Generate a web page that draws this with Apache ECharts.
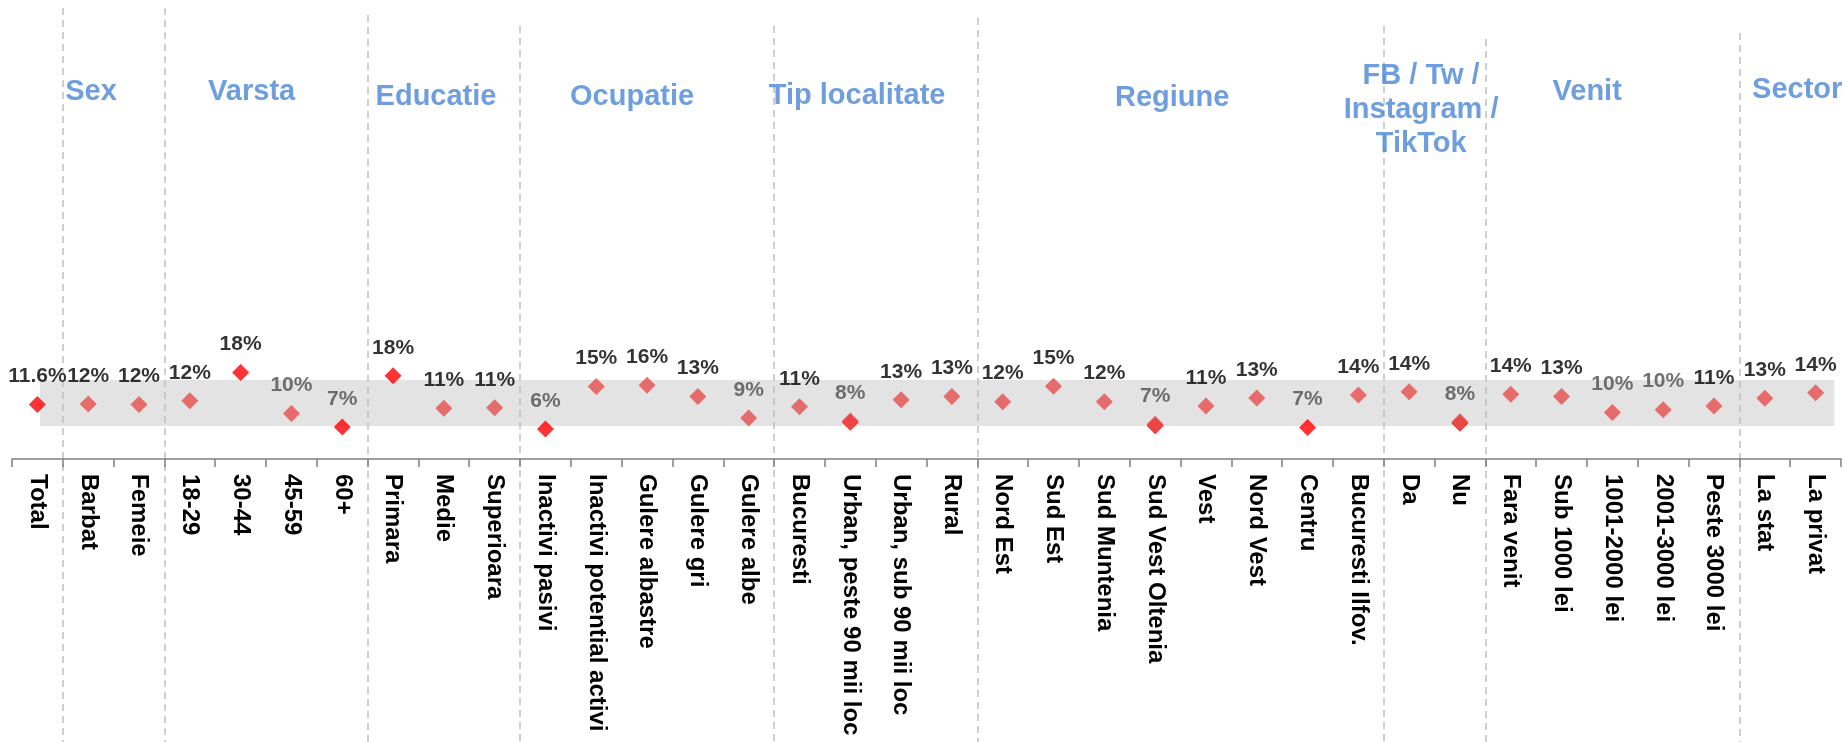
<!DOCTYPE html>
<html>
<head>
<meta charset="utf-8">
<script src="https://cdn.jsdelivr.net/npm/echarts@6/dist/echarts.min.js"></script>
<style>
  html, body { margin:0; padding:0; background:#fff; }
  #chart { width:1845px; height:742px; }
</style>
</head>
<body>
<div id="chart"></div>
<script>
// categorii, in ordinea din grafic
const categories = [
  'Total',
  'Barbat', 'Femeie',
  '18-29', '30-44', '45-59', '60+',
  'Primara', 'Medie', 'Superioara',
  'Inactivi pasivi', 'Inactivi potential activi', 'Gulere albastre', 'Gulere gri', 'Gulere albe',
  'Bucuresti', 'Urban, peste 90 mii loc', 'Urban, sub 90 mii loc', 'Rural',
  'Nord Est', 'Sud Est', 'Sud Muntenia', 'Sud Vest Oltenia', 'Vest', 'Nord Vest', 'Centru', 'Bucuresti Ilfov.',
  'Da', 'Nu',
  'Fara venit', 'Sub 1000 lei', '1001-2000 lei', '2001-3000 lei', 'Peste 3000 lei',
  'La stat', 'La privat'
]

// grupuri (titlu + cate categorii are fiecare)
const groupTitles = ['', 'Sex', 'Varsta', 'Educatie', 'Ocupatie', 'Tip localitate', 'Regiune',
  'FB / Tw /\nInstagram /\nTikTok', 'Venit', 'Sector']
const groupSizes = [1, 2, 4, 3, 5, 4, 8, 2, 5, 2]

// valori (%) - seria de baza (rosu deschis)
const valuesMain = [
  null,
  11.7, 11.6,
  12.4, null, 9.7, null,
  null, 10.8, 10.9,
  null, 15.4, 15.7, 13.3, 8.7,
  11.1, 8.1, 12.6, 13.3,
  12.2, 15.5, 12.2, 7.4, 11.3, 13.0, null, 13.6,
  14.3, 7.9,
  13.8, 13.3, 9.9, 10.5, 11.3,
  12.9, 14.1
]

// valori (%) - diferente semnificative (rosu)
const valuesSig = [
  11.6,
  null, null,
  null, 18.4, null, 6.8,
  17.7, null, null,
  6.4, null, null, null, null,
  null, 7.8, null, null,
  null, null, null, 7.1, null, null, 6.7, null,
  null, 7.6,
  null, null, null, null, null,
  null, null
]

// etichetele afisate
const valueLabels = [
  '11.6%',
  '12%', '12%',
  '12%', '18%', '10%', '7%',
  '18%', '11%', '11%',
  '6%', '15%', '16%', '13%', '9%',
  '11%', '8%', '13%', '13%',
  '12%', '15%', '12%', '7%', '11%', '13%', '7%', '14%',
  '14%', '8%',
  '14%', '13%', '10%', '10%', '11%',
  '13%', '14%'
]

// banda gri (interval, %)
const bandLow = 7.0
const bandHigh = 16.8

/* layout: pozitia titlurilor (in unitati de categorie / px de sus) si inceputul liniilor */
const titleX = [null, 1.555, 4.717, 8.346, 12.205, 16.634, 22.835, 27.736, 31.004, 35.138]
const titleY = [null, 92, 92, 97, 97, 96, 98, 110, 92, 90]
const dividerTop = [8, 8, 15, 26, 26, 18, 26, 39, 33]

const FONT = 'Liberation Sans, Arial, sans-serif'
const H = 742

// limitele grupurilor
const bounds = []
let acc = 0
groupSizes.forEach((n, i) => { acc += n; if (i < groupSizes.length - 1) bounds.push(acc) })

function labelFor(i) {
  const gray = parseFloat(valueLabels[i]) <= 10
  return {
    show: true,
    position: 'top',
    distance: 9,
    formatter: valueLabels[i],
    color: gray ? '#4d4d4d' : '#000',
    fontFamily: FONT,
    fontWeight: 'bold',
    fontSize: 21
  }
}

const mainData = []
valuesMain.forEach((v, i) => {
  if (v == null) return
  mainData.push({ value: [i, v], label: labelFor(i) })
})
const sigData = []
valuesSig.forEach((v, i) => {
  if (v == null) return
  sigData.push({ value: [i, v], label: valuesMain[i] == null ? labelFor(i) : { show: false } })
})

const titleData = []
groupTitles.forEach((t, i) => {
  if (!t) return
  titleData.push({ value: [titleX[i], titleY[i]], name: t })
})

const chart = echarts.init(document.getElementById('chart'))
chart.setOption({
  animation: false,
  grid: [
    { left: 12, right: 4, top: 365, bottom: 283 },
    { left: 12, right: 4, top: 0, bottom: 0 }
  ],
  xAxis: [
    {
      type: 'category', gridIndex: 0, data: categories,
      axisLine: { lineStyle: { color: '#808080', width: 1.5 } },
      axisTick: { show: true, length: 8, lineStyle: { color: '#808080', width: 1.5 } },
      axisLabel: {
        interval: 0, rotate: -90, margin: 15,
        color: '#000', fontFamily: FONT, fontWeight: 'bold', fontSize: 24
      },
      z: 5
    },
    { type: 'value', gridIndex: 0, min: 0, max: 36, show: false },
    { type: 'value', gridIndex: 1, min: 0, max: 36, show: false }
  ],
  yAxis: [
    { type: 'value', gridIndex: 0, min: 0, max: 20, show: false },
    { type: 'value', gridIndex: 1, min: 0, max: H, inverse: true, show: false }
  ],
  series: [
    { // banda gri
      type: 'scatter', xAxisIndex: 1, yAxisIndex: 0, data: [], z: 1, silent: true,
      markArea: {
        silent: true,
        itemStyle: { color: '#E3E3E3' },
        data: [[{ coord: [0.55, bandHigh] }, { coord: [35.87, bandLow] }]]
      }
    },
    { // linii punctate intre grupuri
      type: 'lines', coordinateSystem: 'cartesian2d', xAxisIndex: 2, yAxisIndex: 1, z: 2, silent: true,
      lineStyle: { color: '#BFBFBF', width: 1.5, type: [7, 5], opacity: 1 },
      data: bounds.map((b, i) => ({ coords: [[b, dividerTop[i]], [b, H]] }))
    },
    { // titluri de grup
      type: 'scatter', xAxisIndex: 2, yAxisIndex: 1, z: 6, silent: true,
      symbolSize: 1, itemStyle: { color: 'rgba(0,0,0,0)' },
      label: {
        show: true, position: 'inside', formatter: p => p.name,
        color: '#4A86D6', fontFamily: FONT, fontWeight: 'bold', fontSize: 29,
        lineHeight: 34, align: 'center', verticalAlign: 'middle'
      },
      data: titleData
    },
    {
      name: 'semnificativ', type: 'scatter', xAxisIndex: 0, yAxisIndex: 0, z: 3,
      symbol: 'diamond', symbolSize: 17, itemStyle: { color: '#FF0000' },
      data: sigData
    },
    {
      name: 'valoare', type: 'scatter', xAxisIndex: 0, yAxisIndex: 0, z: 4,
      symbol: 'diamond', symbolSize: 17, itemStyle: { color: '#E64C4C' },
      data: mainData
    }
  ]
})
</script>
</body>
</html>
